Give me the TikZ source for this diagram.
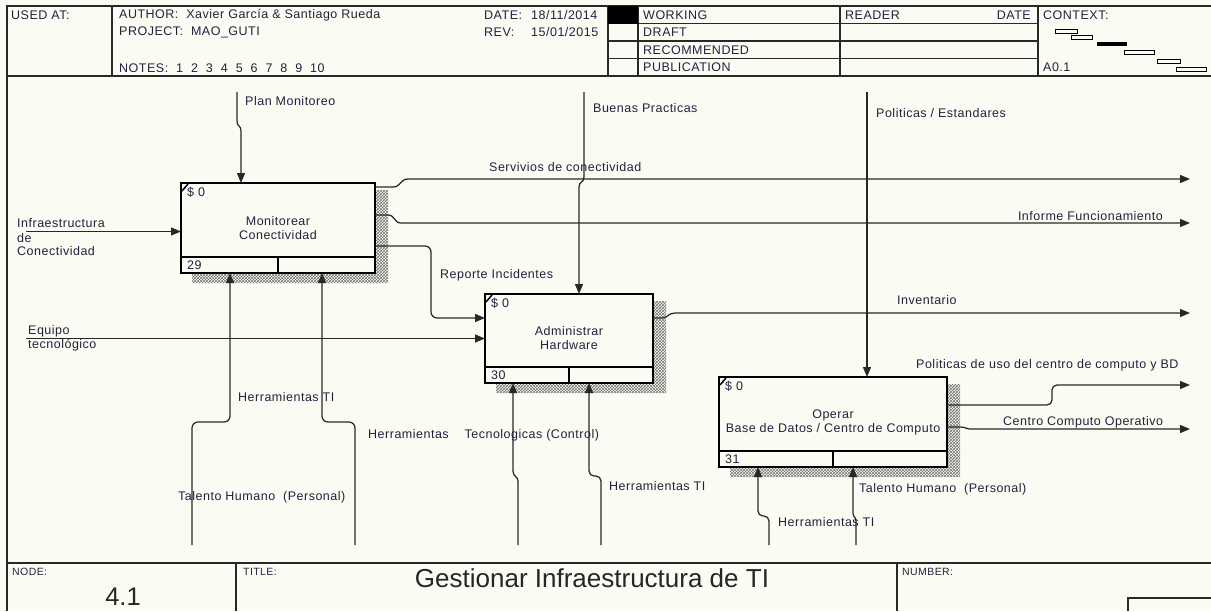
\documentclass[tikz,border=0pt]{standalone}
\usepackage{fontspec}
\setmainfont{Liberation Sans}[LetterSpace=4]
\newfontfamily\titlefont{Liberation Sans}
\usetikzlibrary{arrows.meta,patterns,calc,backgrounds}
\definecolor{paper}{RGB}{251,250,243}
\definecolor{ink}{RGB}{34,34,62}
\definecolor{rule}{RGB}{40,40,40}

% IDEF0 activity box: shadow, numbered bottom strip, cost tag and node number
\newcommand\idefbox[6]{%
  \node[procbox, minimum width=#3, minimum height=#4] (#1) at #2 {#5};
  \begin{scope}[on background layer]
    \fill[pattern=crosshatch, pattern color=black!55]
      ($(#1.north east)+(-1,7)$) rectangle ($(#1.south east)+(13,10)$)
      ($(#1.south west)+(11,-1)$) rectangle ($(#1.south east)+(13,10)$);
  \end{scope}
  \draw[line width=2pt] ($(#1.south west)+(0,-16)$) -- ($(#1.south east)+(0,-16)$);
  \draw[line width=2pt] (#1.south) -- ++(0,-16);
  \draw[line width=1.5pt] ($(#1.north west)+(1,8)$) -- ($(#1.north west)+(7,1)$);
  \node[lbl] (#1-cost) at ($(#1.north west)+(6,9)$) {\$ 0};
  \node[lbl] (#1-num) at ($(#1.south west)+(6,-8)$) {#6};
}

\begin{document}
\begin{tikzpicture}[x=1pt,y=-1pt,
  lbl/.style={font=\fontsize{12.5}{14}\selectfont, text=ink, inner sep=0pt, anchor=west},
  lblb/.style={lbl, anchor=base west},
  small/.style={font=\fontsize{10.5}{12}\selectfont, text=ink, inner sep=0pt, anchor=west},
  big/.style={font=\titlefont\fontsize{25.5}{28}\selectfont, text=black!85, inner sep=0pt},
  frame/.style={line width=1.2pt, draw=rule},
  flow/.style={line width=1.25pt, draw=rule},
  tip/.style={-{Triangle[length=10pt,width=8pt]}},
  procbox/.style={draw=black, line width=2.8pt, fill=paper, rectangle, outer sep=0pt,
    inner sep=0pt, align=center, font=\fontsize{12.5}{14}\selectfont, text=ink},
  ]
\begin{scope}[on background layer]
  \fill[paper] (0,0) rectangle (1211,611);
\end{scope}
\useasboundingbox (0,0) rectangle (1211,611);

% ---------- header ----------
\draw[frame] (1211,6) -- (7,6) -- (7,611);
\draw[frame] (7,76) -- (1211,76);
\foreach \x in {112,608,638,840,1038} \draw[frame] (\x,6) -- (\x,76);
\foreach \y in {23.5,41,58.5} \draw[frame] (608,\y) -- (1038,\y);
\fill[black] (608,6) rectangle (638,23.5);

\node[lbl] (usedat) at (11,15) {USED AT:};
\node[lbl] (author) at (119,15) {AUTHOR:\ \ Xavier García \& Santiago Rueda};
\node[lbl] (project) at (119,32.5) {PROJECT:\ \ MAO\_GUTI};
\node[lbl] (notes) at (119,68) {NOTES:\ \ 1\ \ 2\ \ 3\ \ 4\ \ 5\ \ 6\ \ 7\ \ 8\ \ 9\ \ 10};
\node[lbl] (datek) at (484,15) {DATE:};
\node[lbl] (datev) at (531,15) {18/11/2014};
\node[lbl] (revk) at (484,32.5) {REV:};
\node[lbl] (revv) at (531,32.5) {15/01/2015};
\node[lbl] (working) at (643,15) {WORKING};
\node[lbl] (draft) at (643,32.5) {DRAFT};
\node[lbl] (recom) at (643,50) {RECOMMENDED};
\node[lbl] (public) at (643,67.5) {PUBLICATION};
\node[lbl] (reader) at (845,15) {READER};
\node[lbl, anchor=east] (rdate) at (1031,15) {DATE};
\node[lbl] (context) at (1043,15) {CONTEXT:};
\node[lbl] (ctxnum) at (1043,67.5) {A0.1};

% context map
\begin{scope}[line width=1pt, draw=black]
  \draw (1055,29) rectangle (1077,33);
  \draw (1071,35) rectangle (1092,39);
  \fill[black] (1097,42) rectangle (1127,46);
  \draw (1124,50) rectangle (1154,54);
  \draw (1157,59) rectangle (1180,63);
  \draw (1176,67) rectangle (1206,71);
\end{scope}

% ---------- activity boxes ----------
\idefbox{b1}{(278,228)}{194pt}{90pt}{Monitorear\\Conectividad}{29}
\idefbox{b2}{(569,338.5)}{168pt}{89pt}{Administrar\\Hardware}{30}
\idefbox{b3}{(833,422)}{228pt}{90pt}{Operar\\Base de Datos / Centro de Computo}{31}

% ---------- free ends ----------
\coordinate (i1) at (26,231.5);
\coordinate (i2) at (26,338.5);
\coordinate (c1) at (237,92);
\coordinate (c1b) at (241,131);
\coordinate (c2) at (584,92);
\coordinate (c2b) at (579,187);
\coordinate (c3) at (867,92);
\coordinate (o1) at (1190,179);
\coordinate (o2) at (1190,223);
\coordinate (o3) at (1190,313);
\coordinate (o4) at (1190,385);
\coordinate (o5) at (1190,429);
\coordinate (m1) at (192,545);  \coordinate (m1k) at (230,422);
\coordinate (m2) at (355,545);  \coordinate (m2k) at (322,422);
\coordinate (m3) at (518,545);  \coordinate (m3k) at (513,471);
\coordinate (m4) at (601,545);  \coordinate (m4k) at (589,476);
\coordinate (m5) at (769,545);  \coordinate (m5k) at (758,516);
\coordinate (m6) at (856,545);  \coordinate (m6k) at (853,513);

% ---------- inputs ----------
\draw[flow,tip] (i1) -- (i1 -| b1.west);
\draw[flow,tip] (i2) -- (i2 -| b2.west);
\draw[flow,tip,rounded corners=6pt] ($(b1.north east)+(0,63)$) -| (431,318) -- ($(b2.north west)+(0,24)$);

% ---------- controls ----------
\draw[flow,tip] (c1) -- (237,121) .. controls (237,127) and (241,125) .. (c1b) -- (c1b |- b1.north);
\draw[flow,tip] (c2) -- (584,177) .. controls (584,183) and (579,181) .. (c2b) -- (c2b |- b2.north);
\draw[flow,tip] (c3) -- (c3 |- b3.north);

% ---------- outputs ----------
\draw[flow,tip] ($(b1.north east)+(0,4)$) -- (393,187) .. controls (401,187) and (400,179) .. (408,179) -- (o1);
\draw[flow,tip] ($(b1.north east)+(0,32)$) -- (388,215) .. controls (395,215) and (394,223) .. (401,223) -- (o2);
\draw[flow,tip] ($(b2.north east)+(0,24)$) -- (662,318) .. controls (668,318) and (668,313) .. (675,313) -- (o3);
\draw[flow,tip,rounded corners=5pt] ($(b3.north east)+(0,28)$) -| (1052,385) -- (o4);
\draw[flow,tip] ($(b3.north east)+(0,50)$) -- (960,427) .. controls (966,427) and (965,429) .. (972,429) -- (o5);

% ---------- mechanisms ----------
\draw[flow,tip,rounded corners=6pt] (m1) |- (m1k) -- (m1k |- b1.south);
\draw[flow,tip,rounded corners=6pt] (m2) |- (m2k) -- (m2k |- b1.south);
\draw[flow,tip] (m3) -- (518,481) .. controls (518,476) and (513,477) .. (m3k) -- (m3k |- b2.south);
\draw[flow,tip,rounded corners=5pt] (m4) |- (m4k) -- (m4k |- b2.south);
\draw[flow,tip,rounded corners=5pt] (m5) |- (m5k) -- (m5k |- b3.south);
\draw[flow,tip] (m6) -- (856,521) .. controls (856,516) and (853,518) .. (m6k) -- (m6k |- b3.south);

% ---------- arrow labels ----------
\node[lblb] (li1a) at (17,227) {Infraestructura};
\node[lblb] (li1b) at (17,242.5) {de};
\node[lblb] (li1c) at (17,255) {Conectividad};
\node[lblb] (li2a) at (28,334.5) {Equipo};
\node[lblb] (li2b) at (28,348.5) {tecnológico};
\node[lbl] (lplan) at (245,101) {Plan Monitoreo};
\node[lbl] (lbuen) at (593,108) {Buenas Practicas};
\node[lbl] (lpol) at (876,113) {Politicas / Estandares};
\node[lbl] (lserv) at (489,167) {Servivios de conectividad};
\node[lbl, anchor=east] (linf) at (1163,216) {Informe Funcionamiento};
\node[lbl] (lrep) at (440,275) {Reporte Incidentes};
\node[lbl] (linv) at (897,300) {Inventario};
\node[lbl] (lpuso) at (916,365) {Politicas de uso del centro de computo y BD};
\node[lbl] (lcco) at (1003,422) {Centro Computo Operativo};
\node[lbl] (lher1) at (238,397) {Herramientas TI};
\node[lbl] (ltec) at (368,435) {Herramientas\ \ \ \ Tecnologicas (Control)};
\node[lbl] (lher2) at (609,486) {Herramientas TI};
\node[lbl] (ltal1) at (178,497) {Talento Humano\ \ (Personal)};
\node[lbl] (ltal2) at (859,489) {Talento Humano\ \ (Personal)};
\node[lbl] (lher3) at (778,522) {Herramientas TI};

% ---------- footer ----------
\draw[frame] (7,563) -- (1211,563);
\draw[frame] (236,563) -- (236,611);
\draw[frame] (897,563) -- (897,611);
\draw[frame] (1128,611) -- (1128,598) -- (1211,598);
\node[small] (lnode) at (12,572) {NODE:};
\node[small] (ltitle) at (243,572) {TITLE:};
\node[small] (lnumber) at (902,572) {NUMBER:};
\node[big] (nodeval) at (123,597) {4.1};
\node[big, font=\titlefont\fontsize{26}{28}\selectfont] (titleval) at (592,578) {Gestionar Infraestructura de TI};
\end{tikzpicture}
\end{document}
